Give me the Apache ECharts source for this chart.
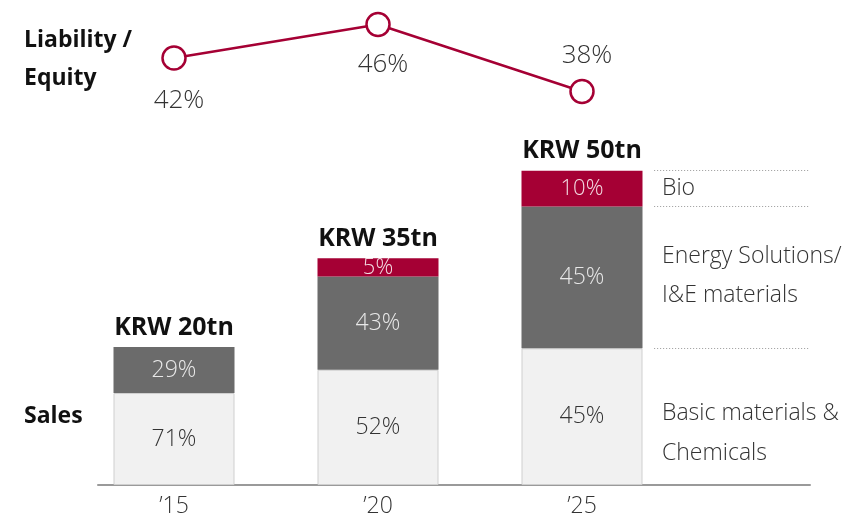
<!DOCTYPE html>
<html>
<head>
<meta charset="utf-8">
<script src="https://cdn.jsdelivr.net/npm/echarts@6/dist/echarts.min.js"></script>
<style>
  html, body { margin: 0; padding: 0; background: #fff; }
  #chart { width: 860px; height: 516px; }
</style>
</head>
<body>
<div id="chart"></div>
<script>
var years = ['\u201915', '\u201920', '\u201925'];
var totals = ['KRW 20tn', 'KRW 35tn', 'KRW 50tn'];
// segment sizes as drawn (approx. KRW tn)
var basic = [14.6, 18.3, 21.7];
var energy = [7.3, 14.8, 22.5];
var bio = [null, 2.9, 5.7];
// share labels
var basicShare = [71, 52, 45];
var energyShare = [29, 43, 45];
var bioShare = [null, 5, 10];
// liability / equity
var debtRatio = [42, 46, 38];

var font = "'Open Sans', 'Noto Sans', sans-serif";
var red = '#a50034';

// stack boundaries of the last bar, for the dotted guide lines
var last = 2;
var b1 = basic[last];
var b2 = basic[last] + energy[last];
var b3 = b2 + bio[last];
function guide(y) {
    return [{coord: [2.355, y]}, {coord: [3.12, y]}];
}

var myChart = echarts.init(document.getElementById('chart'));
var option = {
    animation: false,
    textStyle: {fontFamily: font},
    grid: [
        {left: 72, right: 176, top: 0, bottom: 31, outerBoundsMode: 'none'},
        {left: 98, right: 50, top: 0, bottom: 31, outerBoundsMode: 'none'}
    ],
    xAxis: [
        {
            type: 'category',
            gridIndex: 0,
            data: years,
            axisTick: {show: false},
            axisLine: {show: false},
            axisLabel: {color: '#333', fontSize: 23, fontWeight: 300, margin: 10, fontFamily: font}
        },
        {
            type: 'value',
            gridIndex: 1,
            min: -0.375,
            max: 3.12,
            splitLine: {show: false},
            axisTick: {show: false},
            axisLabel: {show: false},
            axisLine: {show: true, lineStyle: {color: '#9a9a9a', width: 2}}
        }
    ],
    yAxis: [
        {type: 'value', gridIndex: 0, min: 0, max: 77, show: false},
        {type: 'value', gridIndex: 0, min: -8.99, max: 48.93, show: false},
        {type: 'value', gridIndex: 1, min: 0, max: 77, show: false}
    ],
    graphic: [
        {type: 'text', left: 24, top: 29, style: {text: 'Liability /', font: 'bold 23px ' + font, fill: '#111'}},
        {type: 'text', left: 24, top: 67, style: {text: 'Equity', font: 'bold 23px ' + font, fill: '#111'}},
        {type: 'text', left: 24, top: 405, style: {text: 'Sales', font: 'bold 23px ' + font, fill: '#111'}},
        {type: 'text', left: 662, top: 177, style: {text: 'Bio', font: '300 23px ' + font, fill: '#333'}},
        {type: 'text', left: 662, top: 245, style: {text: 'Energy Solutions/', font: '300 23px ' + font, fill: '#333'}},
        {type: 'text', left: 662, top: 284, style: {text: 'I&E materials', font: '300 23px ' + font, fill: '#333'}},
        {type: 'text', left: 662, top: 402, style: {text: 'Basic materials &', font: '300 23px ' + font, fill: '#333'}},
        {type: 'text', left: 662, top: 442, style: {text: 'Chemicals', font: '300 23px ' + font, fill: '#333'}}
    ],
    series: [
        {
            name: 'Basic materials & Chemicals',
            type: 'bar',
            stack: 'sales',
            barWidth: 121,
            data: basic,
            itemStyle: {color: '#f1f1f1', borderColor: '#cfcfcf', borderWidth: 1},
            label: {
                show: true, position: 'inside', color: '#333', fontSize: 23, fontWeight: 300,
                formatter: function (p) { return basicShare[p.dataIndex] + '%'; }
            }
        },
        {
            name: 'Energy Solutions/I&E materials',
            type: 'bar',
            stack: 'sales',
            barWidth: 121,
            data: energy,
            itemStyle: {color: '#6b6b6b'},
            label: {
                show: true, position: 'inside', color: '#e8e8e8', fontSize: 23, fontWeight: 300,
                formatter: function (p) { return energyShare[p.dataIndex] + '%'; }
            }
        },
        {
            name: 'Bio',
            type: 'bar',
            stack: 'sales',
            barWidth: 121,
            data: bio,
            itemStyle: {color: red},
            label: {
                show: true, position: 'inside', color: '#f3dbe2', fontSize: 22, fontWeight: 300,
                formatter: function (p) { return bioShare[p.dataIndex] == null ? '' : bioShare[p.dataIndex] + '%'; }
            }
        },
        {
            name: 'Total',
            type: 'bar',
            stack: 'sales',
            barWidth: 121,
            data: [0, 0, 0],
            itemStyle: {color: 'transparent'},
            label: {
                show: true, position: 'top', distance: 7,
                color: '#111', fontSize: 25, fontWeight: 'bold',
                formatter: function (p) { return totals[p.dataIndex]; }
            }
        },
        {
            name: 'Liability / Equity',
            type: 'line',
            yAxisIndex: 1,
            symbol: 'circle',
            symbolSize: 23,
            lineStyle: {color: red, width: 2.5},
            itemStyle: {color: '#fff', borderColor: red, borderWidth: 2.5},
            label: {
                show: true, color: '#333', fontSize: 26, fontWeight: 300, offset: [5, 0],
                formatter: function (p) { return debtRatio[p.dataIndex] + '%'; }
            },
            data: [
                {value: debtRatio[0], label: {position: 'bottom', distance: 17}},
                {value: debtRatio[1], label: {position: 'bottom', distance: 14}},
                {value: debtRatio[2], label: {position: 'top', distance: 10}}
            ]
        },
        {
            name: 'guides',
            type: 'line',
            xAxisIndex: 1,
            yAxisIndex: 2,
            data: [],
            markLine: {
                silent: true, symbol: 'none',
                lineStyle: {color: '#999', type: [1, 2], width: 1},
                label: {show: false},
                data: [guide(b1), guide(b2), guide(b3)]
            }
        }
    ]
};
myChart.setOption(option);
</script>
</body>
</html>
